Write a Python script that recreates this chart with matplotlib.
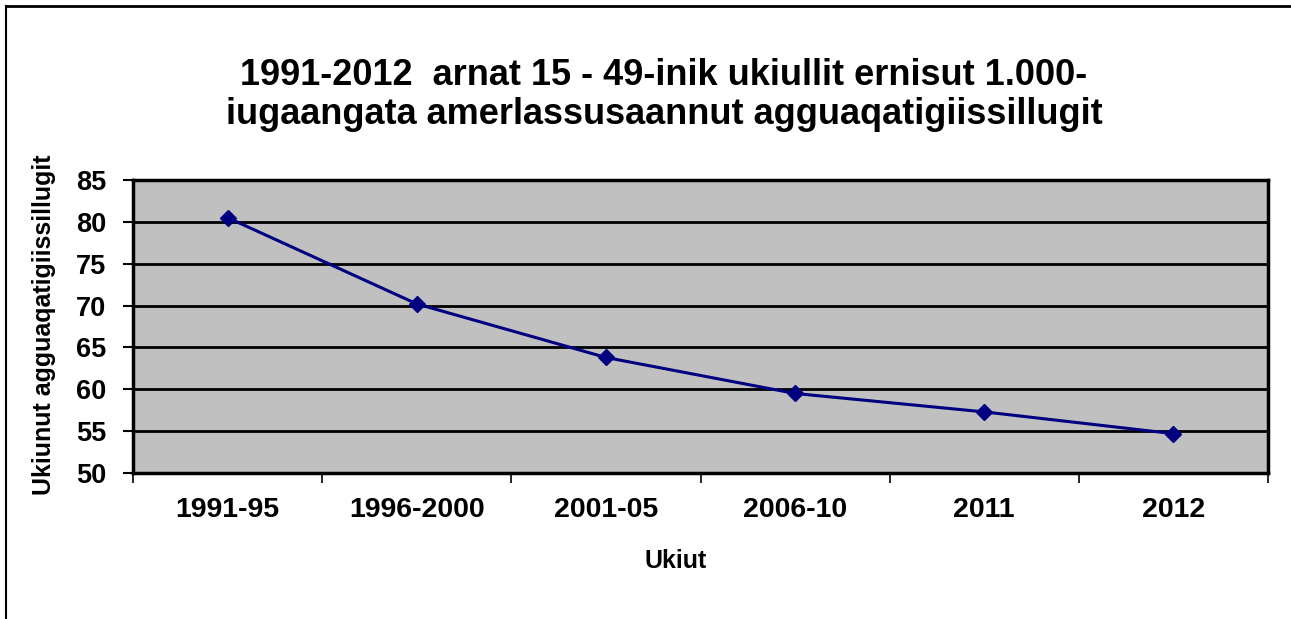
import matplotlib
matplotlib.use("Agg")
import matplotlib.pyplot as plt
from matplotlib.lines import Line2D

categories = ["1991-95", "1996-2000", "2001-05", "2006-10", "2011", "2012"]
values = [80.5, 70.2, 63.8, 59.5, 57.3, 54.7]
yticks = [50, 55, 60, 65, 70, 75, 80, 85]

title = "1991-2012  arnat 15 - 49-inik ukiullit ernisut 1.000-\niugaangata amerlassusaannut agguaqatigiissillugit"
ylabel = "Ukiunut agguaqatigiissillugit"
xlabel = "Ukiut"

plt.rcParams['font.family'] = ['Liberation Sans', 'DejaVu Sans']

W, H = 1291, 619
fig = plt.figure(figsize=(W/100, H/100), dpi=100)
ax = fig.add_axes([133/W, 1-473/H, (1268-133)/W, (473-180)/H])
ax.set_facecolor('#C0C0C0')

x = list(range(len(categories)))
ax.plot(x, values, color='#000080', lw=2.2, marker='D', markersize=8.5, zorder=3)

ax.set_xlim(-0.5, len(categories)-0.5)
ax.set_ylim(50, 85)
ax.set_yticks(yticks)
ax.set_yticklabels([str(v) for v in yticks], fontsize=19.5, fontweight='bold')
ax.set_xticks([i-0.5 for i in range(len(categories)+1)])
ax.set_xticklabels([])
ax.set_xticks(x, minor=True)
ax.set_xticklabels(categories, minor=True, fontsize=20.5, fontweight='bold')
ax.tick_params(axis='x', which='minor', length=0, pad=17)
ax.tick_params(axis='x', which='major', length=7, width=1.2, direction='out')
ax.tick_params(axis='y', length=7, width=1.5, direction='out', pad=12)
ax.yaxis.grid(True, color='black', lw=2)
ax.set_axisbelow(True)
for s in ax.spines.values():
    s.set_linewidth(2.5)
    s.set_color('black')

fig.text(664/W, 1-95/H, title, ha='center', va='center', fontsize=26, fontweight='bold', linespacing=1.15)
fig.text(44/W, 1-325/H, ylabel, ha='center', va='center', rotation=90, fontsize=18, fontweight='bold')
fig.text(676/W, 1-561/H, xlabel, ha='center', va='center', fontsize=18, fontweight='bold')

fig.add_artist(Line2D([6/W, 1], [1-6/H, 1-6/H], color='black', lw=2, transform=fig.transFigure))
fig.add_artist(Line2D([6/W, 6/W], [0, 1-6/H], color='black', lw=1.5, transform=fig.transFigure))

fig.savefig("out.png", dpi=100)
